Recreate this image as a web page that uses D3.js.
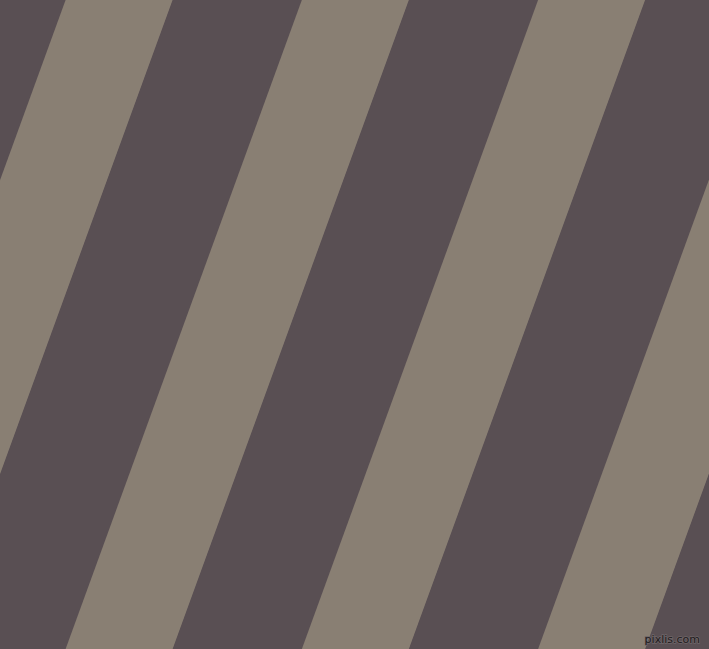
<!DOCTYPE html>
<html>
<head>
<meta charset="utf-8">
<script src="https://cdn.jsdelivr.net/npm/d3@7"></script>
<style>
  html, body { margin: 0; padding: 0; background: #594f53; }
  svg { display: block; }
</style>
</head>
<body>
<script>
// stripe pairs (one dark + one light each), tones and their share of a pair
const pairs = ["p0", "p1", "p2", "p3", "p4", "p5"];
const tones = ["dark", "light"];
const toneShare = [0.547, 0.453];
const toneColors = ["#594f53", "#897f73"];
const markText = "pixlis.com";

const width = 709, height = 649;
const angle = 20;          // stripes lean 20 deg from vertical
const period = 222;        // width of one pair, across the stripes
const start = -281.8;      // where the first pair begins

const svg = d3.select("body").append("svg")
    .attr("width", width)
    .attr("height", height);

// band scale for pairs, colour scale for tones
const pairScale = d3.scaleBand()
    .domain(pairs)
    .range([start, start + period * pairs.length]);

const color = d3.scaleOrdinal()
    .domain(tones)
    .range(toneColors);

const offsets = d3.cumsum([0].concat(toneShare));
const inner = d3.scaleLinear()
    .domain([0, 1])
    .range([0, pairScale.bandwidth()]);

const stripes = [];
pairs.forEach(p => {
    tones.forEach((t, i) => {
        stripes.push({ pair: p, tone: t, from: offsets[i], to: offsets[i + 1] });
    });
});

const g = svg.append("g")
    .attr("transform", `rotate(${angle})`);

g.selectAll("rect")
    .data(stripes)
    .enter()
    .append("rect")
    .attr("x", d => pairScale(d.pair) + inner(d.from))
    .attr("y", -400)
    .attr("width", d => inner(d.to) - inner(d.from) + 0.5)
    .attr("height", 1200)
    .attr("fill", d => color(d.tone));

// watermark
svg.append("text")
    .attr("x", width - 9)
    .attr("y", height - 6)
    .attr("text-anchor", "end")
    .attr("font-family", "DejaVu Sans, sans-serif")
    .attr("font-size", 11)
    .attr("fill", "#1e1a1c")
    .attr("stroke", "#6e6668")
    .attr("stroke-width", 1.5)
    .attr("paint-order", "stroke")
    .text(markText);
</script>
</body>
</html>
